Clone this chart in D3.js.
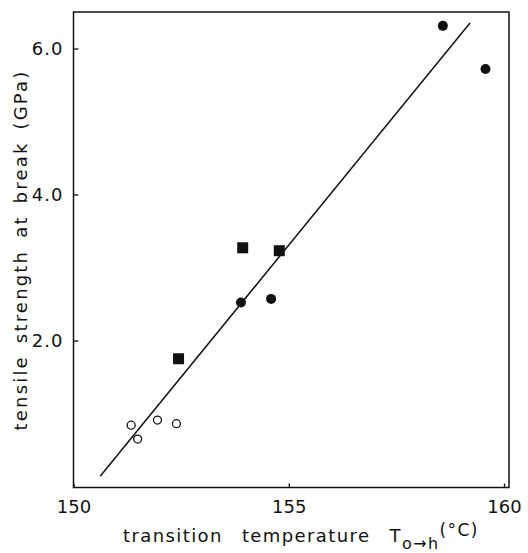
<html>
<head>
<script src="https://d3js.org/d3.v7.min.js"></script>
<style>
	body {margin: 0; background: #fff;}
	text {font-family: "DejaVu Sans", sans-serif; fill: #111;}
</style>
</head>
<body>
<div id="chart"></div>
<script>
// data
var openX = [151.34, 151.49, 151.95, 152.39];
var openY = [0.84, 0.65, 0.91, 0.86];
var squareX = [152.44, 153.93, 154.78];
var squareY = [1.75, 3.27, 3.23];
var filledX = [153.89, 154.59, 158.58, 159.57];
var filledY = [2.52, 2.57, 6.31, 5.72];
var fitX = [150.62, 159.21];
var fitY = [0.14, 6.35];
var xTicks = [150, 155, 160];
var yTicks = [2.0, 4.0, 6.0];

var width = 528, height = 553;
var mLeft = 73.5, mRight = 509, mTop = 12, mBottom = 487.5;

var svg = d3.select("#chart").append("svg")
	.attr("width", width)
	.attr("height", height);

var x = d3.scaleLinear().domain([150, 160]).range([mLeft, 504]);
var y = d3.scaleLinear().domain([0, 6.5]).range([486.5, mTop]);

// frame
svg.append("rect")
	.attr("x", mLeft).attr("y", mTop)
	.attr("width", mRight - mLeft).attr("height", mBottom - mTop)
	.style("fill", "none").style("stroke", "#111").style("stroke-width", 1.5);

// axes, ticks pointing inward
var xAxis = svg.append("g")
	.attr("transform", "translate(0," + mBottom + ")")
	.call(d3.axisBottom(x).tickValues(xTicks).tickSize(-4).tickPadding(11).tickFormat(d3.format("d")));
var yAxis = svg.append("g")
	.attr("transform", "translate(" + mLeft + ",0)")
	.call(d3.axisLeft(y).tickValues(yTicks).tickSize(-5).tickPadding(10).tickFormat(d3.format(".1f")));

[xAxis, yAxis].forEach(function(a) {
	a.select(".domain").remove();
	a.selectAll("line").style("stroke", "#111").style("stroke-width", 1.3);
	a.selectAll("text").style("font-size", "18px").style("font-family", "DejaVu Sans, sans-serif").style("fill", "#111");
});
xAxis.selectAll("text").attr("dy", "0.8em");
yAxis.selectAll("text").style("letter-spacing", "1px");

// fit line
svg.append("line")
	.attr("x1", x(fitX[0])).attr("y1", y(fitY[0]))
	.attr("x2", x(fitX[1])).attr("y2", y(fitY[1]))
	.style("stroke", "#111").style("stroke-width", 1.5);

// open circles
openX.forEach(function(d, i) {
	svg.append("circle")
		.attr("cx", x(d)).attr("cy", y(openY[i])).attr("r", 4)
		.style("fill", "#fff").style("stroke", "#111").style("stroke-width", 1.3);
});

// squares
squareX.forEach(function(d, i) {
	svg.append("rect")
		.attr("x", x(d) - 5.5).attr("y", y(squareY[i]) - 5.5)
		.attr("width", 11).attr("height", 11)
		.style("fill", "#111");
});

// filled circles
filledX.forEach(function(d, i) {
	svg.append("circle")
		.attr("cx", x(d)).attr("cy", y(filledY[i])).attr("r", 5)
		.style("fill", "#111");
});

// y label
svg.append("text")
	.attr("transform", "translate(27,250) rotate(-90)")
	.attr("text-anchor", "middle")
	.style("font-size", "18px")
	.style("letter-spacing", "2.2px")
	.style("word-spacing", "4px")
	.text("tensile strength at break (GPa)");

// x label
var xl = svg.append("text")
	.attr("x", 123).attr("y", 542)
	.style("font-size", "18px")
	.style("letter-spacing", "1.4px")
	.style("word-spacing", "12px")
	.text("transition temperature T");
xl.append("tspan").attr("dy", 7).style("font-size", "16px").style("word-spacing", "0px").text("o→h");
xl.append("tspan").attr("dy", -13).style("font-size", "17px").text("(°C)");
</script>
</body>
</html>
